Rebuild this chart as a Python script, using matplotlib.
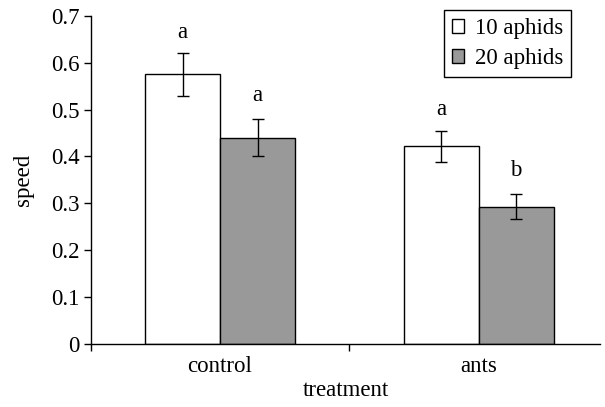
import matplotlib
matplotlib.use("Agg")
import matplotlib.pyplot as plt
import numpy as np

categories = ["control", "ants"]
series_names = ["10 aphids", "20 aphids"]
means_10 = [0.575, 0.422]
means_20 = [0.440, 0.293]
err_10 = [0.045, 0.033]
err_20 = [0.040, 0.026]
letters_10 = ["a", "a"]
letters_20 = ["a", "b"]
yticks = [0, 0.1, 0.2, 0.3, 0.4, 0.5, 0.6, 0.7]

plt.rcParams['font.family'] = ['Liberation Serif', 'DejaVu Serif']
FS = 16.5
fig = plt.figure(figsize=(6.05, 4.07), dpi=100)
ax = fig.add_axes([0.150, 0.155, 0.842, 0.806])

x = np.arange(len(categories)) + 0.5
w = 0.29
off = 0.145
ekw = dict(ecolor='black', elinewidth=1.0, capthick=1.0)
b1 = ax.bar(x - off, means_10, w, color='white', edgecolor='black', linewidth=1.0,
            yerr=err_10, capsize=4.5, error_kw=ekw, label=series_names[0], zorder=2)
b2 = ax.bar(x + off, means_20, w, color='#999999', edgecolor='black', linewidth=1.0,
            yerr=err_20, capsize=4.5, error_kw=ekw, label=series_names[1], zorder=2)

for xi, m, e, t in zip(x - off, means_10, err_10, letters_10):
    ax.text(xi, m + e + 0.045, t, ha='center', va='center', fontsize=FS)
for xi, m, e, t in zip(x + off, means_20, err_20, letters_20):
    ax.text(xi, m + e + 0.05, t, ha='center', va='center', fontsize=FS)

ax.set_xlim(0, 1.97)
ax.set_ylim(0, 0.7)
ax.set_yticks(yticks)
ax.set_yticklabels(["0" if v == 0 else f"{v:.1f}" for v in yticks], fontsize=FS)
ax.set_xticks(x)
ax.set_xticklabels(categories, fontsize=FS)
ax.tick_params(axis='x', which='major', length=0, pad=9)
ax.set_xticks([0, 1], minor=True)
ax.tick_params(axis='x', which='minor', length=5, direction='out', width=1)
ax.tick_params(axis='y', length=5, direction='out', width=1, pad=3)
for s in ['top', 'right']:
    ax.spines[s].set_visible(False)
for s in ['left', 'bottom']:
    ax.spines[s].set_linewidth(1.0)
ax.set_xlabel("treatment", fontsize=FS, labelpad=2)
ax.set_ylabel("speed", fontsize=FS, labelpad=12)

leg = ax.legend(loc='upper right', bbox_to_anchor=(0.943, 1.018), fontsize=FS,
                frameon=True, fancybox=False, edgecolor='black', framealpha=1,
                handlelength=0.55, handleheight=0.55, handletextpad=0.45,
                borderpad=0.35, labelspacing=0.4, borderaxespad=0)
leg.get_frame().set_linewidth(1.0)

fig.savefig("out.png", dpi=100)
